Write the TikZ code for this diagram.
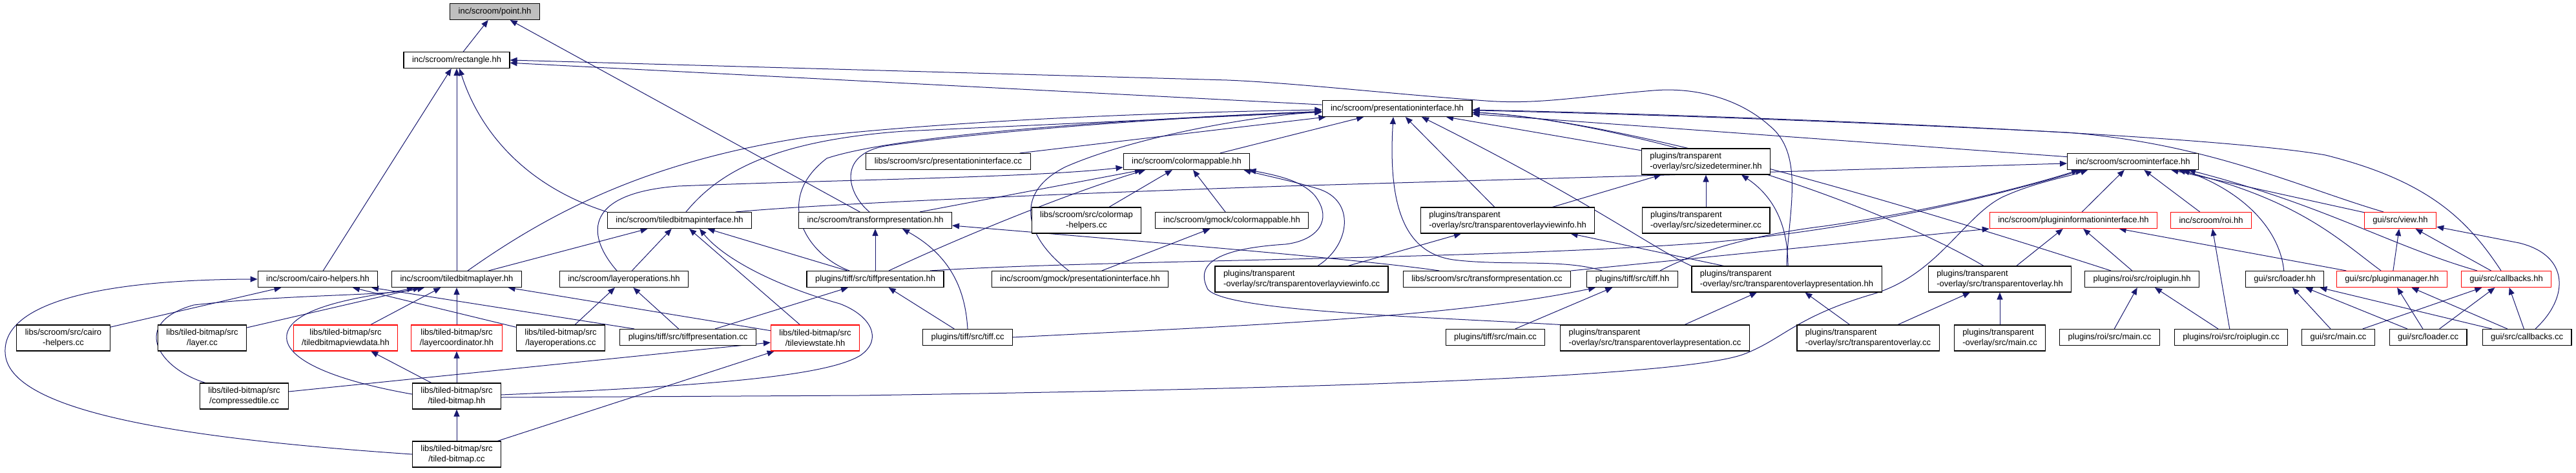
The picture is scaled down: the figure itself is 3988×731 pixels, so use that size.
\documentclass[tikz,border=0pt]{standalone}
\usepackage{fontspec}
\setmainfont{Liberation Sans}
\usetikzlibrary{arrows.meta,calc}
\pgfdeclarelayer{bg}
\pgfsetlayers{bg,main}
\definecolor{edgeblue}{HTML}{191970}
\definecolor{nodegray}{HTML}{BFBFBF}
\definecolor{dred}{HTML}{FF0000}
\tikzset{
  box/.style={draw=black, line width=1.1pt, fill=white, font={\fontsize{13}{15.5}\selectfont},
    inner xsep=13pt, inner ysep=0pt, minimum height=25pt, align=center, text=black},
  box2/.style={box, minimum height=40pt},
  boxl/.style={box2, align=left},
  redbox/.style={draw=dred},
  e/.style={draw=edgeblue, line width=1.0pt, -{Triangle[length=11pt,width=9pt]}}
}
\begin{document}
\begin{tikzpicture}[x=1pt,y=-1pt]
\useasboundingbox (0,0) rectangle (3988,731);
% row 0-2
\node[box, fill=nodegray] (n_point) at (766,18) {inc/scroom/point.hh};
\node[box] (n_rect) at (707,93) {inc/scroom/rectangle.hh};
\node[box] (n_pi) at (2163,168) {inc/scroom/presentationinterface.hh};
% row 3
\node[box] (n_picc) at (1468,250) {libs/scroom/src/presentationinterface.cc};
\node[box] (n_cm) at (1837,250) {inc/scroom/colormappable.hh};
\node[boxl] (n_sdhh) at (2641,250) {plugins/transparent\\-overlay/src/sizedeterminer.hh};
\node[box] (n_si) at (3302,250) {inc/scroom/scroominterface.hh};
% row 4
\node[box] (n_tbi) at (1052,341) {inc/scroom/tiledbitmapinterface.hh};
\node[box] (n_tp) at (1355,341) {inc/scroom/transformpresentation.hh};
\node[box2] (n_cmh) at (1682,341) {libs/scroom/src/colormap\\-helpers.cc};
\node[box] (n_gcm) at (1907,341) {inc/scroom/gmock/colormappable.hh};
\node[boxl] (n_tovi) at (2334,341) {plugins/transparent\\-overlay/src/transparentoverlayviewinfo.hh};
\node[boxl] (n_sdcc) at (2641,341) {plugins/transparent\\-overlay/src/sizedeterminer.cc};
\node[box,redbox] (n_pii) at (3210,341) {inc/scroom/plugininformationinterface.hh};
\node[box,redbox] (n_roi) at (3423,341) {inc/scroom/roi.hh};
\node[box,redbox] (n_view) at (3716,341) {gui/src/view.hh};
% row 5
\node[box] (n_ch) at (492,432) {inc/scroom/cairo-helpers.hh};
\node[box] (n_tbl) at (707,432) {inc/scroom/tiledbitmaplayer.hh};
\node[box] (n_lo) at (966,432) {inc/scroom/layeroperations.hh};
\node[box] (n_tphh) at (1355,432) {plugins/tiff/src/tiffpresentation.hh};
\node[box] (n_gpi) at (1672,432) {inc/scroom/gmock/presentationinterface.hh};
\node[boxl] (n_tovicc) at (2015,432) {plugins/transparent\\-overlay/src/transparentoverlayviewinfo.cc};
\node[box] (n_tpcc) at (2302,432) {libs/scroom/src/transformpresentation.cc};
\node[box] (n_tiffhh) at (2527,432) {plugins/tiff/src/tiff.hh};
\node[boxl] (n_toph) at (2766,432) {plugins/transparent\\-overlay/src/transparentoverlaypresentation.hh};
\node[boxl] (n_toh) at (3096,432) {plugins/transparent\\-overlay/src/transparentoverlay.hh};
\node[box] (n_roiph) at (3316,432) {plugins/roi/src/roiplugin.hh};
\node[box] (n_ldh) at (3537,432) {gui/src/loader.hh};
\node[box,redbox] (n_pm) at (3703,432) {gui/src/pluginmanager.hh};
\node[box,redbox] (n_cbh) at (3880,432) {gui/src/callbacks.hh};
% row 6
\node[box2] (n_chcc) at (98,523) {libs/scroom/src/cairo\\-helpers.cc};
\node[box2] (n_layer) at (313,523) {libs/tiled-bitmap/src\\/layer.cc};
\node[box2,redbox] (n_tbvd) at (535,523) {libs/tiled-bitmap/src\\/tiledbitmapviewdata.hh};
\node[box2,redbox] (n_lc) at (707,523) {libs/tiled-bitmap/src\\/layercoordinator.hh};
\node[box2] (n_locc) at (868,523) {libs/tiled-bitmap/src\\/layeroperations.cc};
\node[box] (n_tfpcc) at (1065,522) {plugins/tiff/src/tiffpresentation.cc};
\node[box2,redbox] (n_tvs) at (1262,523) {libs/tiled-bitmap/src\\/tileviewstate.hh};
\node[box] (n_tiffcc) at (1498,522) {plugins/tiff/src/tiff.cc};
\node[box] (n_tiffmain) at (2315,522) {plugins/tiff/src/main.cc};
\node[boxl] (n_topcc) at (2562,523) {plugins/transparent\\-overlay/src/transparentoverlaypresentation.cc};
\node[boxl] (n_tocc) at (2892,523) {plugins/transparent\\-overlay/src/transparentoverlay.cc};
\node[boxl] (n_tomain) at (3096,523) {plugins/transparent\\-overlay/src/main.cc};
\node[box] (n_roimain) at (3266,522) {plugins/roi/src/main.cc};
\node[box] (n_roipcc) at (3454,522) {plugins/roi/src/roiplugin.cc};
\node[box] (n_guimain) at (3620,522) {gui/src/main.cc};
\node[box] (n_ldcc) at (3759,522) {gui/src/loader.cc};
\node[box] (n_cbcc) at (3912,522) {gui/src/callbacks.cc};
% row 7-8
\node[box2] (n_ct) at (378,613) {libs/tiled-bitmap/src\\/compressedtile.cc};
\node[box2] (n_tbh) at (707,613) {libs/tiled-bitmap/src\\/tiled-bitmap.hh};
\node[box2] (n_tbcc) at (707,703) {libs/tiled-bitmap/src\\/tiled-bitmap.cc};

\begin{pgfonlayer}{bg}
% point.hh
\draw[e] (n_rect) -- (n_point);
\draw[e] (n_tp) -- (n_point);
% rectangle.hh
\draw[e] (n_pi) -- (n_rect);
\draw[e] (n_toph.north) .. controls (2768,330) and (2795,240) .. (2740,195) .. controls (2690,150) and (2620,135) .. (2560,140) .. controls (2440,150) and (2380,162) .. (2300,156) .. controls (2150,145) and (2000,128) .. (1900,124) -- (n_rect.east);
\draw[e] (n_ch) -- (n_rect);
\draw[e] (n_tbl) -- (n_rect);
\draw[e] (n_tbi.north west) .. controls (820,290) and (745,210) .. (n_rect);
% presentationinterface.hh
\draw[e] (n_picc) -- (n_pi);
\draw[e] (n_cm) -- (n_pi);
\draw[e] (n_gpi) .. controls (1590,370) and (1565,300) .. (1650,258) .. controls (1760,210) and (1950,178) .. (n_pi);
\draw[e] ([xshift=24pt]n_tiffhh.north west) .. controls (2420,400) and (2330,412) .. (2250,402) .. controls (2180,392) and (2148,330) .. ([xshift=-6pt]n_pi.south);
\draw[e] (n_tovi) -- (n_pi);
\draw[e] (n_toph.north west) .. controls (2560,385) and (2460,310) .. ([xshift=38pt]n_pi.south);
\draw[e] (n_sdhh) -- (n_pi);
\draw[e] ([xshift=-40pt]n_tphh.north) .. controls (1250,395) and (1195,310) .. (1280,245) .. controls (1400,205) and (1800,182) .. (n_pi);
\draw[e] ([xshift=10pt]n_tbi.north) .. controls (1110,270) and (1190,218) .. (1400,203) -- (n_pi);
\draw[e] ([xshift=17pt]n_tbl.north) .. controls (850,330) and (1000,250) .. (1250,212) .. controls (1500,185) and (1800,174) .. (n_pi);
\draw[e] ([xshift=-9pt]n_tp.north) .. controls (1312,300) and (1295,240) .. (1370,226) .. controls (1550,200) and (1850,180) .. (n_pi);
\draw[e] ([xshift=-25pt]n_toh.north) .. controls (2880,300) and (2500,185) .. (n_pi);
\draw[e] (n_si) -- (n_pi);
\draw[e] ([xshift=-48pt]n_roiph.north) .. controls (2900,300) and (2500,185) .. (n_pi);
\draw[e] ([xshift=-26pt]n_view.north) .. controls (3560,290) and (3420,222) .. (3200,205) .. controls (2800,185) and (2500,176) .. (n_pi);
\draw[e] ([xshift=-8pt]n_cbh.north) .. controls (3820,340) and (3760,280) .. (3600,240) .. controls (3400,205) and (2600,176) .. (n_pi);
% colormappable.hh
\draw[e] ([xshift=-11pt]n_lo.north) .. controls (912,370) and (895,300) .. (1050,288) .. controls (1300,278) and (1600,275) .. ([yshift=-9pt]n_cm.west);
\draw[e] (n_tp) -- (n_cm);
\draw[e] ([xshift=21pt]n_tphh.north) .. controls (1480,370) and (1650,300) .. ([xshift=-64pt]n_cm.south);
\draw[e] (n_cmh) -- (n_cm);
\draw[e] (n_gcm) -- (n_cm);
\draw[e] ([xshift=25pt]n_tovicc.north) .. controls (2090,380) and (2100,310) .. (2040,292) .. controls (2000,280) and (1960,272) .. ([xshift=-10pt]n_cm.south east);
\draw[e] (n_topcc.north west) .. controls (2200,490) and (1900,482) .. (1870,448) .. controls (1850,410) and (1880,385) .. (1990,378) .. controls (2040,372) and (2065,340) .. (2035,302) .. controls (2015,280) and (1980,272) .. ([xshift=-2pt]n_cm.south east);
% gmock/colormappable.hh
\draw[e] (n_gpi) -- (n_gcm);
% transparentoverlayviewinfo.hh
\draw[e] (n_tovicc) -- (n_tovi);
\draw[e] (n_toph) -- (n_tovi);
% sizedeterminer.hh
\draw[e] (n_tovi) -- (n_sdhh);
\draw[e] (n_sdcc) -- (n_sdhh);
\draw[e] ([xshift=2pt]n_toph.north) .. controls (2768,340) and (2740,300) .. ([xshift=55pt]n_sdhh.south);
% transparentoverlaypresentation.hh
\draw[e] (n_topcc) -- (n_toph);
\draw[e] (n_tocc) -- (n_toph);
% transparentoverlay.hh
\draw[e] (n_tocc) -- (n_toh);
\draw[e] (n_tomain) -- (n_toh);
% scroominterface.hh
\draw[e] (n_pii) -- (n_si);
\draw[e] (n_roi) -- (n_si);
\draw[e] ([xshift=87pt]n_tbi.north) .. controls (1250,318) and (1500,305) .. (1990,288) -- (n_si);
\draw[e] ([xshift=43pt]n_tiffhh.north) .. controls (2615,395) and (2700,365) .. (2824,350) .. controls (3000,325) and (3150,285) .. ([xshift=-84pt]n_si.south);
\draw[e] ([xshift=85pt]n_tphh.north) .. controls (1700,402) and (2300,402) .. (2650,375) .. controls (2900,352) and (3100,300) .. ([xshift=-78pt]n_si.south);
\draw[e] ([yshift=-2pt]n_tbh.east) -- (1330,612) .. controls (2000,602) and (2600,585) .. (2700,548) .. controls (2760,525) and (2780,490) .. (2900,455) .. controls (3000,425) and (3040,335) .. (3100,305) .. controls (3150,282) and (3200,274) .. ([xshift=-70pt]n_si.south);
\draw[e] (n_ldh) .. controls (3530,360) and (3480,300) .. ([xshift=77pt]n_si.south);
\draw[e] ([xshift=-17pt]n_pm.north) .. controls (3620,370) and (3560,310) .. ([xshift=70pt]n_si.south);
\draw[e] ([xshift=-45pt]n_cbh.north) .. controls (3700,380) and (3600,318) .. ([xshift=86pt]n_si.south);
\draw[e] (n_view) -- (n_si);
% plugininformationinterface.hh
\draw[e] (n_toh) -- (n_pii);
\draw[e] (n_roiph) -- (n_pii);
\draw[e] (n_pm) -- (n_pii);
\draw[e] (n_tpcc) -- (n_pii);
% roi.hh, roiplugin.hh
\draw[e] (n_roipcc) -- (n_roi);
\draw[e] (n_roimain) -- (n_roiph);
\draw[e] (n_roipcc) -- (n_roiph);
% gui
\draw[e] (n_guimain) -- (n_ldh);
\draw[e] (n_ldcc) -- (n_ldh);
\draw[e] (n_cbcc) -- (n_ldh);
\draw[e] (n_ldcc) -- (n_pm);
\draw[e] (n_cbcc) -- (n_pm);
\draw[e] (n_guimain) -- (n_cbh);
\draw[e] (n_ldcc) -- (n_cbh);
\draw[e] (n_cbcc) -- (n_cbh);
\draw[e] (n_pm) -- (n_view);
\draw[e] (n_cbh) -- (n_view);
\draw[e] ([xshift=13pt]n_cbcc.north) .. controls (3978,460) and (3978,395) .. (3900,376) -- ([yshift=-10pt]n_view.east);
% tiff
\draw[e] (n_tiffmain) -- (n_tiffhh);
\draw[e] (n_tiffcc.east) .. controls (1900,505) and (2250,492) .. ([xshift=-57pt]n_tiffhh.south);
\draw[e] (n_tiffcc) -- (n_tphh);
\draw[e] (n_tiffcc.north) .. controls (1495,460) and (1480,400) .. ([xshift=42pt]n_tp.south);
\draw[e] (n_tfpcc) -- (n_tphh);
\draw[e] (n_tphh) -- (n_tp);
\draw[e] ([xshift=-74pt]n_tpcc.north) .. controls (2100,400) and (1700,368) .. ([yshift=-8pt]n_tp.east);
\draw[e] (n_tfpcc) -- (n_lo);
\draw[e] (n_tfpcc) -- (n_ch);
% layeroperations / cairo-helpers
\draw[e] (n_locc) -- (n_lo);
\draw[e] (n_locc) -- (n_ch);
\draw[e] (n_chcc) -- (n_ch);
\draw[e] (n_tbcc.west) .. controls (300,680) and (10,640) .. (8,545) .. controls (5,470) and (150,433) .. (n_ch.west);
% tiled-bitmap
\draw[e] (n_tbcc) -- (n_tbh);
\draw[e] (n_tbcc) -- (n_tvs);
\draw[e] (n_ct) -- (n_tvs);
\draw[e] ([xshift=-60pt]n_ct.north) .. controls (245,570) and (200,500) .. (300,472) .. controls (450,455) and (600,458) .. ([xshift=-50pt]n_tbl.south);
\draw[e] (n_tbh) -- (n_tbvd);
\draw[e] (n_tbh) -- (n_lc);
\draw[e] ([yshift=3pt]n_tbh.west) .. controls (480,582) and (420,540) .. (452,502) .. controls (485,465) and (600,455) .. ([xshift=-66pt]n_tbl.south);
\draw[e] ([yshift=2pt]n_tbh.east) .. controls (1100,597) and (1280,582) .. (1332,550) .. controls (1368,525) and (1348,488) .. (1300,470) .. controls (1200,442) and (1120,400) .. ([xshift=31pt]n_tbi.south);
% tiledbitmaplayer / tiledbitmapinterface
\draw[e] (n_layer) -- (n_tbl);
\draw[e] (n_tbvd) -- (n_tbl);
\draw[e] (n_lc) -- (n_tbl);
\draw[e] (n_tvs) -- (n_tbl);
\draw[e] (n_tbl) -- (n_tbi);
\draw[e] (n_lo) -- (n_tbi);
\draw[e] (n_tvs) -- (n_tbi);
\draw[e] (n_tphh) -- (n_tbi);
\end{pgfonlayer}
\end{tikzpicture}
\end{document}
